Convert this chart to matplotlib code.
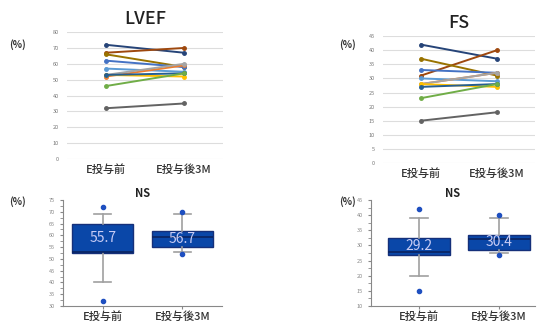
import matplotlib
matplotlib.use("Agg")
import matplotlib.pyplot as plt

plt.rcParams['font.family'] = ['Noto Sans CJK JP', 'DejaVu Sans']

groups = ["E投与前", "E投与後3M"]

line_colors = ["#264478", "#9E480E", "#997300", "#4472C4", "#5B9BD5", "#ED7D31",
               "#A5A5A5", "#FFC000", "#255E91", "#70AD47", "#636363"]

lvef_pre = [72, 67, 66, 62, 57, 52, 53, 53, 53, 46, 32]
lvef_post = [67, 70, 58, 58, 55, 59, 60, 52, 54, 54, 35]

fs_pre = [42, 31, 37, 33, 30, 28, 28, 28, 27, 23, 15]
fs_post = [37, 40, 31, 32, 29, 32, 32, 27, 28, 28, 18]

# box stats: low whisker, q1, median, q3, high whisker, outliers
lvef_box = [(40, 52.5, 53, 65, 69, [72, 32]), (53, 55, 59.5, 62, 69, [70, 52])]
lvef_mean = [55.7, 56.7]
fs_box = [(20, 27, 28, 32.5, 39, [42, 15]), (27.5, 28.5, 32, 33.5, 39, [40, 27])]
fs_mean = [29.2, 30.4]

fig = plt.figure(figsize=(5.47, 3.27), dpi=100)


def line_panel(rect, pre, post, title, ymax, ystep):
    ax = fig.add_axes(rect)
    for c, a, b in zip(line_colors, pre, post):
        ax.plot([0, 1], [a, b], color=c, lw=1.4, marker="o", ms=2.5)
    ax.set_xlim(-0.5, 1.5)
    ax.set_ylim(0, ymax)
    ax.set_yticks(range(0, ymax + 1, ystep))
    ax.set_xticks([0, 1])
    ax.set_xticklabels(groups, fontsize=8, color="#333333", fontweight="medium")
    ax.tick_params(axis="y", labelsize=4, colors="#777777", length=0, pad=6)
    ax.tick_params(axis="x", length=0, pad=4)
    ax.grid(axis="y", color="#dddddd", lw=0.8)
    ax.set_axisbelow(True)
    for s in ax.spines.values():
        s.set_visible(False)
    ax.set_title(title, fontsize=13, pad=6, color="#222222", fontweight="medium")
    return ax


def box_panel(rect, stats, means, ylo, yhi, xlim):
    ax = fig.add_axes(rect)
    bs = []
    for lo, q1, med, q3, hi, fl in stats:
        bs.append(dict(whislo=lo, q1=q1, med=med, q3=q3, whishi=hi, fliers=fl))
    ax.bxp(bs, positions=[0, 1], widths=0.77, patch_artist=True, showfliers=True,
           boxprops=dict(facecolor="#0A47A8", edgecolor="#15307A", lw=1),
           medianprops=dict(color="#0B2360", lw=1.2),
           whiskerprops=dict(color="#A0A0A0", lw=1.2),
           capprops=dict(color="#A0A0A0", lw=1.2),
           capwidths=0.22,
           flierprops=dict(marker="o", markersize=3, markerfacecolor="#1E4FC0",
                           markeredgecolor="#1E4FC0"))
    for i, m in enumerate(means):
        q1, q3 = stats[i][1], stats[i][3]
        ax.text(i, (q1 + q3) / 2, f"{m}", ha="center", va="center",
                fontsize=10, color="#C8CCF5")
    ax.set_xlim(*xlim)
    ax.set_ylim(ylo, yhi)
    ax.set_yticks(range(ylo, yhi + 1, 5))
    ax.set_yticks([y + 2.5 for y in range(ylo, yhi, 5)], minor=True)
    ax.set_xticks([0, 1])
    ax.set_xticklabels(groups, fontsize=8, color="#333333", fontweight="medium")
    ax.tick_params(axis="y", which="both", labelsize=4, colors="#888888", length=2, pad=4)
    ax.tick_params(axis="x", length=2, colors="#888888", pad=2, labelcolor="#333333")
    for s in ["top", "right"]:
        ax.spines[s].set_visible(False)
    for s in ["left", "bottom"]:
        ax.spines[s].set_color("#888888")
    ax.set_title("NS", fontsize=8, pad=1, color="#222222", fontweight="bold")
    return ax


line_panel([0.1225, 0.5138, 0.285, 0.388], lvef_pre, lvef_post, "LVEF", 80, 10)
line_panel([0.700, 0.5015, 0.278, 0.388], fs_pre, fs_post, "FS", 45, 5)

box_panel([0.115, 0.0642, 0.291, 0.324], lvef_box, lvef_mean, 30, 75, (-0.5, 1.5))
box_panel([0.678, 0.0642, 0.300, 0.324], fs_box, fs_mean, 10, 45, (-0.6, 1.45))

for x, y in [(17, 45), (348, 45), (17, 202), (348, 202)]:
    fig.text(x / 547, 1 - y / 327, "(%)", fontsize=7, fontweight="bold",
             color="#333333", ha="center", va="center")

fig.savefig("out.png", dpi=100)
